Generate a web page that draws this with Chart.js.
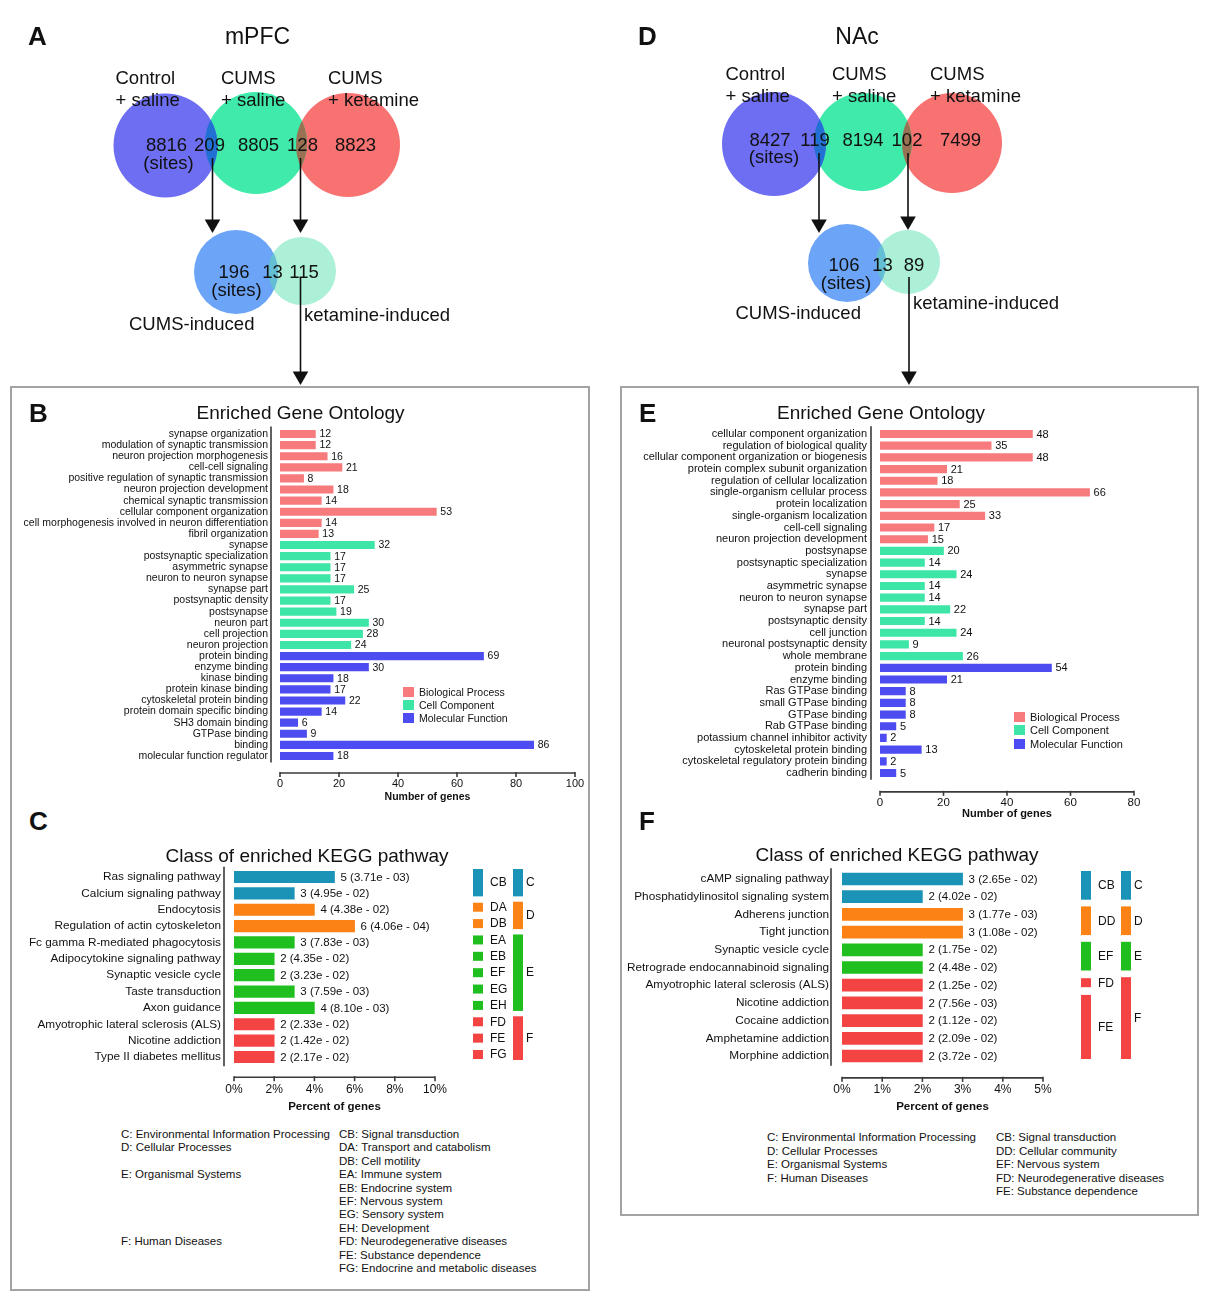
<!DOCTYPE html>
<html><head><meta charset="utf-8">
<script src="https://cdn.jsdelivr.net/npm/chart.js@4.4.1/dist/chart.umd.min.js"></script>
<style>
html,body{margin:0;padding:0;background:#fff;}
#page{position:relative;width:1209px;height:1300px;overflow:hidden;font-family:"Liberation Sans",Arial,Helvetica,sans-serif;color:#111;}
.abs{position:absolute;white-space:nowrap;line-height:1;z-index:3;}
.box{position:absolute;border:2px solid #a3a3a3;box-sizing:border-box;z-index:0;}
canvas{position:absolute;z-index:1;}
.sw{position:absolute;z-index:3;}
</style></head>
<body><div id="page"></div>
<script>
// ---------------- DATA ----------------
const vennGroups = ['Control', '+ saline', 'CUMS', '+ saline', 'CUMS', '+ ketamine'];
const vennA_top = [8816, 209, 8805, 128, 8823];
const vennA_sub = [196, 13, 115];
const vennD_top = [8427, 119, 8194, 102, 7499];
const vennD_sub = [106, 13, 89];
const vennSubNames = ['CUMS-induced', 'ketamine-induced'];

const goClassKeys = ['BP', 'CC', 'MF'];
const goClassNames = ['Biological Process', 'Cell Component', 'Molecular Function'];

const goLabelsB = ['synapse organization','modulation of synaptic transmission','neuron projection morphogenesis','cell-cell signaling','positive regulation of synaptic transmission','neuron projection development','chemical synaptic transmission','cellular component organization','cell morphogenesis involved in neuron differentiation','fibril organization','synapse','postsynaptic specialization','asymmetric synapse','neuron to neuron synapse','synapse part','postsynaptic density','postsynapse','neuron part','cell projection','neuron projection','protein binding','enzyme binding','kinase binding','protein kinase binding','cytoskeletal protein binding','protein domain specific binding','SH3 domain binding','GTPase binding','binding','molecular function regulator'];
const goValuesB = [12,12,16,21,8,18,14,53,14,13, 32,17,17,17,25,17,19,30,28,24, 69,30,18,17,22,14,6,9,86,18];
const goClassB = ['BP','BP','BP','BP','BP','BP','BP','BP','BP','BP','CC','CC','CC','CC','CC','CC','CC','CC','CC','CC','MF','MF','MF','MF','MF','MF','MF','MF','MF','MF'];

const goLabelsE = ['cellular component organization','regulation of biological quality','cellular component organization or biogenesis','protein complex subunit organization','regulation of cellular localization','single-organism cellular process','protein localization','single-organism localization','cell-cell signaling','neuron projection development','postsynapse','postsynaptic specialization','synapse','asymmetric synapse','neuron to neuron synapse','synapse part','postsynaptic density','cell junction','neuronal postsynaptic density','whole membrane','protein binding','enzyme binding','Ras GTPase binding','small GTPase binding','GTPase binding','Rab GTPase binding','potassium channel inhibitor activity','cytoskeletal protein binding','cytoskeletal regulatory protein binding','cadherin binding'];
const goValuesE = [48,35,48,21,18,66,25,33,17,15, 20,14,24,14,14,22,14,24,9,26, 54,21,8,8,8,5,2,13,2,5];
const goClassE = ['BP','BP','BP','BP','BP','BP','BP','BP','BP','BP','CC','CC','CC','CC','CC','CC','CC','CC','CC','CC','MF','MF','MF','MF','MF','MF','MF','MF','MF','MF'];

const goTicksB = [0, 20, 40, 60, 80, 100];
const goTicksE = [0, 20, 40, 60, 80];

const keggLabelsC = ['Ras signaling pathway','Calcium signaling pathway','Endocytosis','Regulation of actin cytoskeleton','Fc gamma R-mediated phagocytosis','Adipocytokine signaling pathway','Synaptic vesicle cycle','Taste transduction','Axon guidance','Amyotrophic lateral sclerosis (ALS)','Nicotine addiction','Type II diabetes mellitus'];
const keggPctC = [5, 3, 4, 6, 3, 2, 2, 3, 4, 2, 2, 2];
const keggCountC = [5, 3, 4, 6, 3, 2, 2, 3, 4, 2, 2, 2];
const keggPvalC = ['3.71e - 03','4.95e - 02','4.38e - 02','4.06e - 04','7.83e - 03','4.35e - 02','3.23e - 02','7.59e - 03','8.10e - 03','2.33e - 02','1.42e - 02','2.17e - 02'];
const keggClassC = ['C','C','D','D','E','E','E','E','E','F','F','F'];
const keggSubC = ['CB','CB','DA','DB','EA','EB','EF','EG','EH','FD','FE','FG'];

const keggLabelsF = ['cAMP signaling pathway','Phosphatidylinositol signaling system','Adherens junction','Tight junction','Synaptic vesicle cycle','Retrograde endocannabinoid signaling','Amyotrophic lateral sclerosis (ALS)','Nicotine addiction','Cocaine addiction','Amphetamine addiction','Morphine addiction'];
const keggPctF = [3, 2, 3, 3, 2, 2, 2, 2, 2, 2, 2];
const keggCountF = [3, 2, 3, 3, 2, 2, 2, 2, 2, 2, 2];
const keggPvalF = ['2.65e - 02','4.02e - 02','1.77e - 03','1.08e - 02','1.75e - 02','4.48e - 02','1.25e - 02','7.56e - 03','1.12e - 02','2.09e - 02','3.72e - 02'];
const keggClassF = ['C','C','D','D','E','E','F','F','F','F','F'];
const keggSubF = ['CB','CB','DD','DD','EF','EF','FD','FE','FE','FE','FE'];

const keggTicksC = [0, 2, 4, 6, 8, 10];
const keggTicksF = [0, 1, 2, 3, 4, 5];

const legendMainC = ['C: Environmental Information Processing','D: Cellular Processes','E: Organismal Systems','F: Human Diseases'];
const legendSubC = ['CB: Signal transduction','DA: Transport and catabolism','DB: Cell motility','EA: Immune system','EB: Endocrine system','EF: Nervous system','EG: Sensory system','EH: Development','FD: Neurodegenerative diseases','FE: Substance dependence','FG: Endocrine and metabolic diseases'];
const legendMainF = ['C: Environmental Information Processing','D: Cellular Processes','E: Organismal Systems','F: Human Diseases'];
const legendSubF = ['CB: Signal transduction','DD: Cellular community','EF: Nervous system','FD: Neurodegenerative diseases','FE: Substance dependence'];

// ---------------- STYLE ----------------
const FONT = '"Liberation Sans", Arial, Helvetica, sans-serif';
const goColors = ['#f77a7c', '#3de6a6', '#4c4cf0'];
const keggColors = {C: '#1b93b7', D: '#fd8216', E: '#1fbf1f', F: '#f44343'};
const vennColors = {blue: 'rgb(110,110,242)', green: 'rgb(64,234,170)', red: 'rgb(248,114,114)', subBlue: 'rgb(108,164,248)', subGreen: 'rgb(172,240,216)',
  blueGreen: 'rgb(34,112,212)', greenRed: 'rgb(152,114,82)', subOverlap: 'rgb(100,190,212)'};

Chart.defaults.font.family = FONT;
Chart.defaults.color = '#111';

const page = document.getElementById('page');

function txt(x, y, s, o = {}) {
  const d = document.createElement('div');
  d.className = 'abs';
  d.textContent = s;
  d.style.left = x + 'px';
  d.style.top = y + 'px';
  d.style.fontSize = (o.size || 11) + 'px';
  if (o.bold) d.style.fontWeight = 'bold';
  const ax = o.align === 'center' ? '-50%' : (o.align === 'right' ? '-100%' : '0');
  d.style.transform = 'translate(' + ax + ',-50%)';
  page.appendChild(d);
}
function box(l, t, w, h) {
  const d = document.createElement('div');
  d.className = 'box';
  d.style.left = l + 'px'; d.style.top = t + 'px'; d.style.width = w + 'px'; d.style.height = h + 'px';
  page.appendChild(d);
}
function mkCanvas(left, top, w, h) {
  const c = document.createElement('canvas');
  c.width = w; c.height = h;
  c.style.left = left + 'px'; c.style.top = top + 'px';
  c.style.width = w + 'px'; c.style.height = h + 'px';
  page.appendChild(c);
  return c;
}

// ---------------- PLUGINS ----------------
const axisPlugin = {
  id: 'offsetAxes',
  afterDraw(chart, args, o) {
    const {ctx, chartArea: a, scales: {x}} = chart;
    ctx.save();
    ctx.strokeStyle = '#3a3a3a';
    ctx.lineWidth = 1.6;
    const yl = a.left - o.yGap;
    ctx.beginPath(); ctx.moveTo(yl, a.top - 2); ctx.lineTo(yl, a.bottom + 1); ctx.stroke();
    const xl = a.bottom + o.xGap;
    ctx.beginPath(); ctx.moveTo(x.getPixelForValue(x.min), xl); ctx.lineTo(x.getPixelForValue(x.max), xl); ctx.stroke();
    x.ticks.forEach(t => {
      const px = x.getPixelForValue(t.value);
      ctx.beginPath(); ctx.moveTo(px, xl - 1); ctx.lineTo(px, xl + 4); ctx.stroke();
    });
    ctx.restore();
  }
};

const goLabelPlugin = {
  id: 'goLabels',
  afterDatasetsDraw(chart, args, o) {
    const {ctx} = chart;
    ctx.save();
    ctx.font = o.size + 'px ' + FONT;
    ctx.fillStyle = '#111';
    ctx.textBaseline = 'middle';
    ctx.textAlign = 'left';
    chart.data.datasets.forEach((ds, di) => {
      chart.getDatasetMeta(di).data.forEach((bar, i) => {
        if (ds.data[i] == null) return;
        ctx.fillText(String(ds.data[i]), bar.x + 4, bar.y + 0.5);
      });
    });
    ctx.restore();
  }
};

function runs(codes) {
  const out = [];
  codes.forEach((c, i) => {
    if (out.length && out[out.length - 1].code === c) out[out.length - 1].to = i;
    else out.push({code: c, from: i, to: i});
  });
  return out;
}

const keggPlugin = {
  id: 'keggExtras',
  afterDatasetsDraw(chart, args, o) {
    const {ctx, chartArea: a, scales: {y}} = chart;
    const meta = chart.getDatasetMeta(0);
    ctx.save();
    ctx.font = o.size + 'px ' + FONT;
    ctx.textBaseline = 'middle';
    ctx.textAlign = 'left';
    ctx.fillStyle = '#111';
    meta.data.forEach((bar, i) => {
      ctx.fillText(o.counts[i] + ' (' + o.pvals[i] + ')', bar.x + 6, bar.y + 0.5);
    });
    const drawRuns = (codes, xOff, tOff) => {
      runs(codes).forEach(r => {
        const y0 = y.getPixelForValue(r.from), y1 = y.getPixelForValue(r.to);
        let top, bot;
        if (r.from === r.to) { top = y0 - 4.5 + o.shift; bot = y0 + 4.5 + o.shift; }
        else { top = y0 - o.ext + o.shift; bot = y1 + o.ext + o.shift; }
        ctx.fillStyle = keggColors[o.cls[r.from]];
        ctx.fillRect(a.right + xOff, top, 10, bot - top);
        ctx.fillStyle = '#111';
        ctx.font = o.codeSize + 'px ' + FONT;
        ctx.fillText(r.code, a.right + tOff, (top + bot) / 2 + 0.5);
      });
    };
    drawRuns(o.subs, 38, 55);
    drawRuns(o.cls, 78, 91);
    ctx.restore();
  }
};

// lens-shaped overlaps of the Venn circles, drawn right after the last circle dataset
const overlapPlugin = {
  id: 'overlaps',
  afterDatasetDraw(chart, args, o) {
    if (args.index !== 0) return;
    const ctx = chart.ctx;
    o.pairs.forEach(p => {
      const a = chart.getDatasetMeta(p[0]).data[0], b = chart.getDatasetMeta(p[1]).data[0];
      ctx.save();
      ctx.beginPath(); ctx.arc(a.x, a.y, a.options.radius, 0, 2 * Math.PI); ctx.clip();
      ctx.beginPath(); ctx.arc(b.x, b.y, b.options.radius, 0, 2 * Math.PI);
      ctx.fillStyle = p[2]; ctx.fill();
      ctx.restore();
    });
  }
};

// ---------------- HORIZONTAL BAR FACTORY ----------------
function hbar(o) {
  const cLeft = o.L - o.yW;
  const cTop = Math.floor(o.T - 24);
  const padTop = o.T - cTop;
  const cBottom = Math.round(o.titleY + o.titleSize * 0.6);
  const xH = cBottom - o.B;
  const cW = o.yW + (o.R - o.L) + o.padRight;
  const cH = cBottom - cTop;
  const canvas = mkCanvas(cLeft, cTop, cW, cH);
  return new Chart(canvas, {
    type: 'bar',
    data: {labels: o.labels, datasets: o.datasets},
    options: {
      indexAxis: 'y', responsive: false, animation: false, events: [],
      layout: {padding: {top: padTop, right: o.padRight, bottom: 0, left: 0}},
      plugins: Object.assign({legend: {display: false}, tooltip: {enabled: false},
        offsetAxes: {yGap: o.yGap, xGap: o.xGap}}, o.pluginOpts),
      scales: {
        y: {type: 'category', grid: {display: false, drawTicks: false}, border: {display: false},
            ticks: {font: {size: o.labelSize}, color: '#111', padding: o.yPad, autoSkip: false},
            afterFit: s => { s.width = o.yW; }},
        x: {type: 'linear', min: 0, max: o.ticks[o.ticks.length - 1],
            grid: {display: false, drawTicks: false}, border: {display: false},
            afterBuildTicks: s => { s.ticks = o.ticks.map(v => ({value: v})); },
            ticks: {font: {size: o.tickSize}, color: '#111', padding: o.xPad, maxRotation: 0,
                    callback: o.tickCb || (v => String(v))},
            title: {display: true, text: o.xTitle, font: {size: o.titleSize, weight: 'bold'}, color: '#111', padding: {top: 0, bottom: 0}},
            afterFit: s => { s.height = xH; }}
      }
    },
    plugins: [axisPlugin].concat(o.plugins || [])
  });
}

function goDatasets(values, classes, thick) {
  return goClassKeys.map((k, ci) => ({
    label: goClassNames[ci],
    data: values.map((v, i) => classes[i] === k ? v : null),
    backgroundColor: goColors[ci], borderWidth: 0, grouped: false, barThickness: thick
  }));
}

// ---------------- BOXES ----------------
box(10, 386, 580, 905);
box(620, 386, 579, 830);

// ---------------- VENN ----------------
function venn(o) {
  const canvas = mkCanvas(o.x0, 0, o.x1 - o.x0, 390);
  const circle = (c, col) => ({type: 'bubble', order: 1, data: [{x: c[0], y: c[1], r: c[2]}], backgroundColor: col, borderWidth: 0, hoverRadius: 0, clip: false});
  const arrow = a => ({type: 'line', order: 0, data: [{x: a[0], y: a[1]}, {x: a[0], y: a[2] - 9}], borderColor: '#111', borderWidth: 1.6,
    pointRadius: [0, 9], pointStyle: 'triangle', pointRotation: 180, pointBackgroundColor: '#111', pointBorderWidth: 0, fill: false, clip: false});
  new Chart(canvas, {
    type: 'bubble',
    data: {datasets: [
      circle(o.circles[0], vennColors.blue), circle(o.circles[1], vennColors.green), circle(o.circles[2], vennColors.red),
      circle(o.circles[3], vennColors.subBlue), circle(o.circles[4], vennColors.subGreen),
      arrow(o.arrows[0]), arrow(o.arrows[1]), arrow(o.arrows[2])
    ]},
    options: {
      responsive: false, animation: false, events: [],
      layout: {padding: 0, autoPadding: false},
      plugins: {legend: {display: false}, tooltip: {enabled: false},
        overlaps: {pairs: [[0, 1, vennColors.blueGreen], [1, 2, vennColors.greenRed], [3, 4, vennColors.subOverlap]]}},
      scales: {x: {type: 'linear', min: o.x0, max: o.x1, display: false},
               y: {type: 'linear', min: 0, max: 390, reverse: true, display: false}}
    },
    plugins: [overlapPlugin]
  });
}

venn({x0: 0, x1: 605,
  circles: [[165.5, 145.5, 52], [256, 143, 51], [348, 145, 52], [236, 272, 42], [302, 271, 34]],
  arrows: [[212.5, 158, 233], [300.5, 158, 233], [300.5, 277, 385]]});
venn({x0: 605, x1: 1209,
  circles: [[774, 144, 52], [863, 142, 49], [952, 143, 50], [847, 263, 39], [908, 262, 32]],
  arrows: [[819, 153, 233], [908, 153, 230], [909, 277, 385]]});

// ---------------- GO CHARTS ----------------
hbar({L: 280, R: 575, T: 428.45, B: 761.55, yW: 270, padRight: 40,
  titleY: 797, titleSize: 10.5, xTitle: 'Number of genes',
  labels: goLabelsB, datasets: goDatasets(goValuesB, goClassB, 7.5),
  ticks: goTicksB, labelSize: 10.5, tickSize: 11, yPad: 12, xPad: 16, yGap: 9, xGap: 11.5,
  plugins: [goLabelPlugin], pluginOpts: {goLabels: {size: 10.5}}});

hbar({L: 880, R: 1134, T: 428.15, B: 778.85, yW: 258, padRight: 40,
  titleY: 814, titleSize: 11, xTitle: 'Number of genes',
  labels: goLabelsE, datasets: goDatasets(goValuesE, goClassE, 7.5),
  ticks: goTicksE, labelSize: 11, tickSize: 11.5, yPad: 13, xPad: 17.5, yGap: 9, xGap: 13,
  plugins: [goLabelPlugin], pluginOpts: {goLabels: {size: 11}}});

// ---------------- KEGG CHARTS ----------------
hbar({L: 234, R: 435, T: 868.8, B: 1065.2, yW: 222, padRight: 110,
  titleY: 1107, titleSize: 11.5, xTitle: 'Percent of genes',
  labels: keggLabelsC,
  datasets: [{data: keggPctC, backgroundColor: keggClassC.map(c => keggColors[c]), borderWidth: 0, barThickness: 11.5}],
  ticks: keggTicksC, tickCb: v => v + '%', labelSize: 11.8, tickSize: 12, yPad: 13, xPad: 17, yGap: 10, xGap: 12,
  plugins: [keggPlugin], pluginOpts: {keggExtras: {counts: keggCountC, pvals: keggPvalC, cls: keggClassC, subs: keggSubC, size: 11.5, codeSize: 12, shift: -2.5, ext: 5.5}}});

hbar({L: 842, R: 1043, T: 870.15, B: 1064.85, yW: 220, padRight: 110,
  titleY: 1107, titleSize: 11.5, xTitle: 'Percent of genes',
  labels: keggLabelsF,
  datasets: [{data: keggPctF, backgroundColor: keggClassF.map(c => keggColors[c]), borderWidth: 0, barThickness: 12}],
  ticks: keggTicksF, tickCb: v => v + '%', labelSize: 11.8, tickSize: 12, yPad: 13, xPad: 18, yGap: 11, xGap: 13,
  plugins: [keggPlugin], pluginOpts: {keggExtras: {counts: keggCountF, pvals: keggPvalF, cls: keggClassF, subs: keggSubF, size: 11.5, codeSize: 12, shift: -2.5, ext: 5.5}}});

// ---------------- TEXT ----------------
txt(28, 36, 'A', {size: 26, bold: true});
txt(257.5, 36, 'mPFC', {size: 23, align: 'center'});
txt(638, 36, 'D', {size: 26, bold: true});
txt(857, 36, 'NAc', {size: 23, align: 'center'});
txt(29, 413, 'B', {size: 26, bold: true});
txt(300.5, 412, 'Enriched Gene Ontology', {size: 19, align: 'center'});
txt(639, 413, 'E', {size: 26, bold: true});
txt(881, 412, 'Enriched Gene Ontology', {size: 19, align: 'center'});
txt(29, 821, 'C', {size: 26, bold: true});
txt(307, 855, 'Class of enriched KEGG pathway', {size: 19, align: 'center'});
txt(639, 821, 'F', {size: 26, bold: true});
txt(897, 854, 'Class of enriched KEGG pathway', {size: 19, align: 'center'});

const VS = 18.5;
[[115.5, 78], [115.5, 100], [221, 78], [221, 100], [328, 78], [328, 100]].forEach((p, i) => txt(p[0], p[1], vennGroups[i], {size: VS}));
[166.5, 209.5, 258.5, 302.5, 355.5].forEach((x, i) => txt(x, 145, String(vennA_top[i]), {size: VS, align: 'center'}));
txt(168.5, 163, '(sites)', {size: VS, align: 'center'});
[234, 272.5, 304].forEach((x, i) => txt(x, 272, String(vennA_sub[i]), {size: VS, align: 'center'}));
txt(236.5, 290, '(sites)', {size: VS, align: 'center'});
txt(129, 324, vennSubNames[0], {size: VS});
txt(304, 315, vennSubNames[1], {size: VS});

[[725.5, 74], [725.5, 96], [832, 74], [832, 96], [930, 74], [930, 96]].forEach((p, i) => txt(p[0], p[1], vennGroups[i], {size: VS}));
[770, 815, 863, 907, 960.5].forEach((x, i) => txt(x, 140, String(vennD_top[i]), {size: VS, align: 'center'}));
txt(774, 157, '(sites)', {size: VS, align: 'center'});
[844, 882.5, 914].forEach((x, i) => txt(x, 265, String(vennD_sub[i]), {size: VS, align: 'center'}));
txt(846, 283, '(sites)', {size: VS, align: 'center'});
txt(735.5, 313, vennSubNames[0], {size: VS});
txt(913, 303, vennSubNames[1], {size: VS});

function goLegend(x, ys, size) {
  goClassNames.forEach((n, i) => {
    const s = document.createElement('div');
    s.className = 'sw';
    s.style.left = x + 'px'; s.style.top = (ys[i] - 5) + 'px';
    s.style.width = '11px'; s.style.height = '10px';
    s.style.background = goColors[i];
    page.appendChild(s);
    txt(x + 16, ys[i], n, {size: size});
  });
}
goLegend(403, [692, 705, 718], 10.5);
goLegend(1014, [717, 730, 744], 11);

legendSubC.forEach((s, i) => txt(339, 1135 + i * 13.4, s, {size: 11.5}));
legendMainC.forEach(s => {
  const row = legendSubC.findIndex(t => t[0] === s[0]);
  txt(121, 1135 + row * 13.4, s, {size: 11.5});
});
legendSubF.forEach((s, i) => txt(996, 1138 + i * 13.5, s, {size: 11.5}));
legendMainF.forEach((s, i) => txt(767, 1138 + i * 13.5, s, {size: 11.5}));
</script>
</body></html>
